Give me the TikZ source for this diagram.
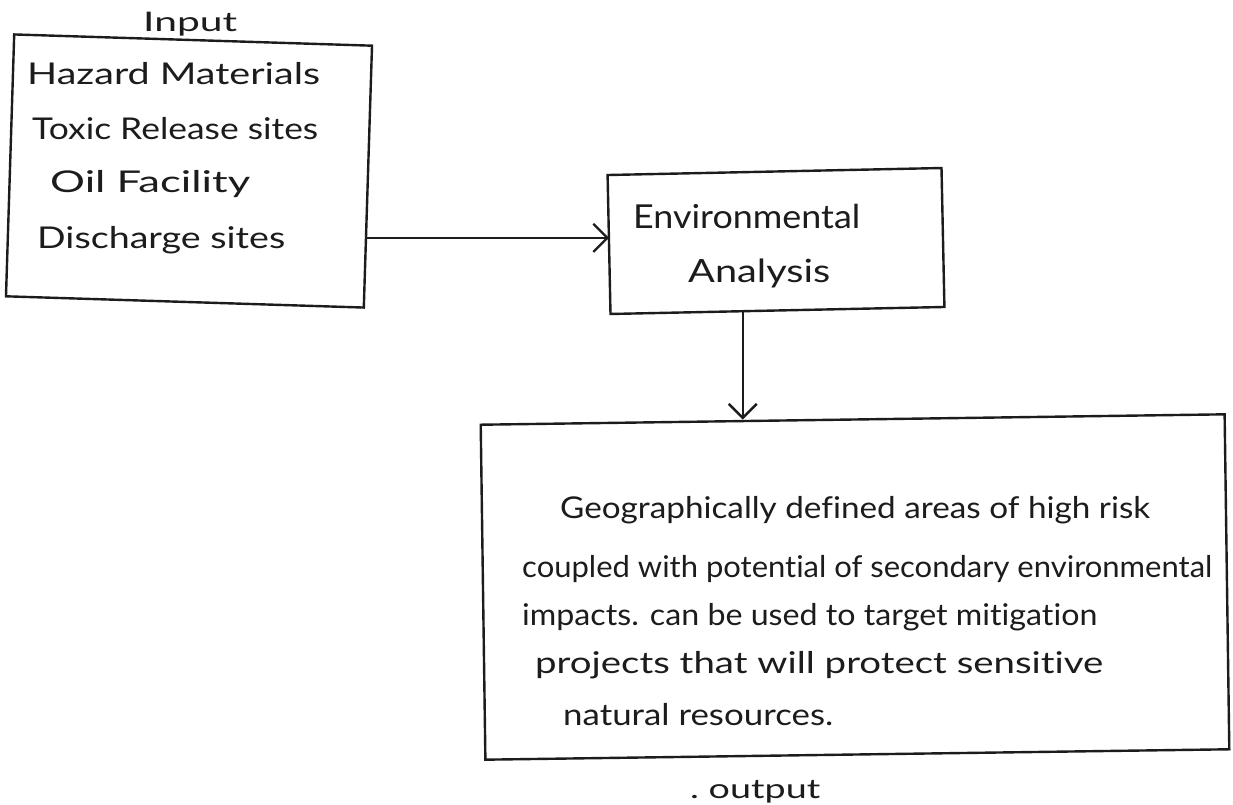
\documentclass[tikz,border=0pt]{standalone}
\usepackage{graphicx}
\usepackage{fontspec}
\setmainfont{Lato}[Ligatures={NoCommon}]
\usetikzlibrary{arrows.meta,calc}
\definecolor{inkcol}{HTML}{1C1C1C}
% stretch a line of text to a given width, keeping its height
\newcommand\fitto[2]{\resizebox{#1}{\height}{#2}}
\tikzset{
  ink/.style={draw=inkcol, line width=2.4pt},
  panel/.style={ink, rectangle, inner sep=0pt, outer sep=0pt},
  flow/.style={ink, -{Straight Barb[length=14pt,width=28pt,line width=2.4pt]}},
  hand/.style={anchor=base west, inner sep=0pt, text=inkcol, font=\fontsize{30}{30}\selectfont},
}
\begin{document}
\begin{tikzpicture}[x=1pt,y=-1pt]
\useasboundingbox[fill=white] (0,0) rectangle (1233,805);

% the three boxes
\node[panel, minimum width=358pt, minimum height=262pt, rotate=-1.8] (inbox) at (189,171) {};
\node[panel, minimum width=334pt, minimum height=139pt, rotate=1.2] (envbox) at (776,241) {};
\node[panel, minimum width=744pt, minimum height=335pt, rotate=0.8] (outbox) at (855,587) {};

% input label and list
\node[hand, font=\fontsize{27}{27}\selectfont] (inlabel) at (143,32) {\fitto{94pt}{Input}};
\node[hand] (in1) at (27,85)  {\fitto{293pt}{Hazard Materials}};
\node[hand] (in2) at (32,140) {\fitto{286pt}{Toxic Release sites}};
\node[hand] (in3) at (50,193) {\fitto{200pt}{Oil Facility}};
\node[hand] (in4) at (37,248) {\fitto{248pt}{Discharge sites}};

% analysis step
\node[hand, font=\fontsize{33}{33}\selectfont] (env1) at (633,228) {\fitto{227pt}{Environmental}};
\node[hand, font=\fontsize{32}{32}\selectfont] (env2) at (688,282) {\fitto{142pt}{Analysis}};

% output text
\node[hand] (out1) at (560,518) {\fitto{590pt}{Geographically defined areas of high risk}};
\node[hand] (out2) at (522,577) {\fitto{690pt}{coupled with potential of secondary environmental}};
\node[hand] (out3) at (522,625) {\fitto{575pt}{impacts. can be used to target mitigation}};
\node[hand] (out4) at (535,673) {\fitto{568pt}{projects that will protect sensitive}};
\node[hand] (out5) at (563,725) {\fitto{270pt}{natural resources.}};
\node[hand, font=\fontsize{27}{27}\selectfont] (outlabel) at (690,798) {\fitto{130pt}{.\ output}};

% connectors
\coordinate (a1) at ($(inbox.south east)!0.266!(inbox.north east)$);
\draw[flow] (a1) -- (a1 -| envbox.west);
\coordinate (a2) at ($(envbox.south west)!0.396!(envbox.south east)$);
\draw[flow] (a2) -- (a2 |- outbox.north);
\end{tikzpicture}
\end{document}
